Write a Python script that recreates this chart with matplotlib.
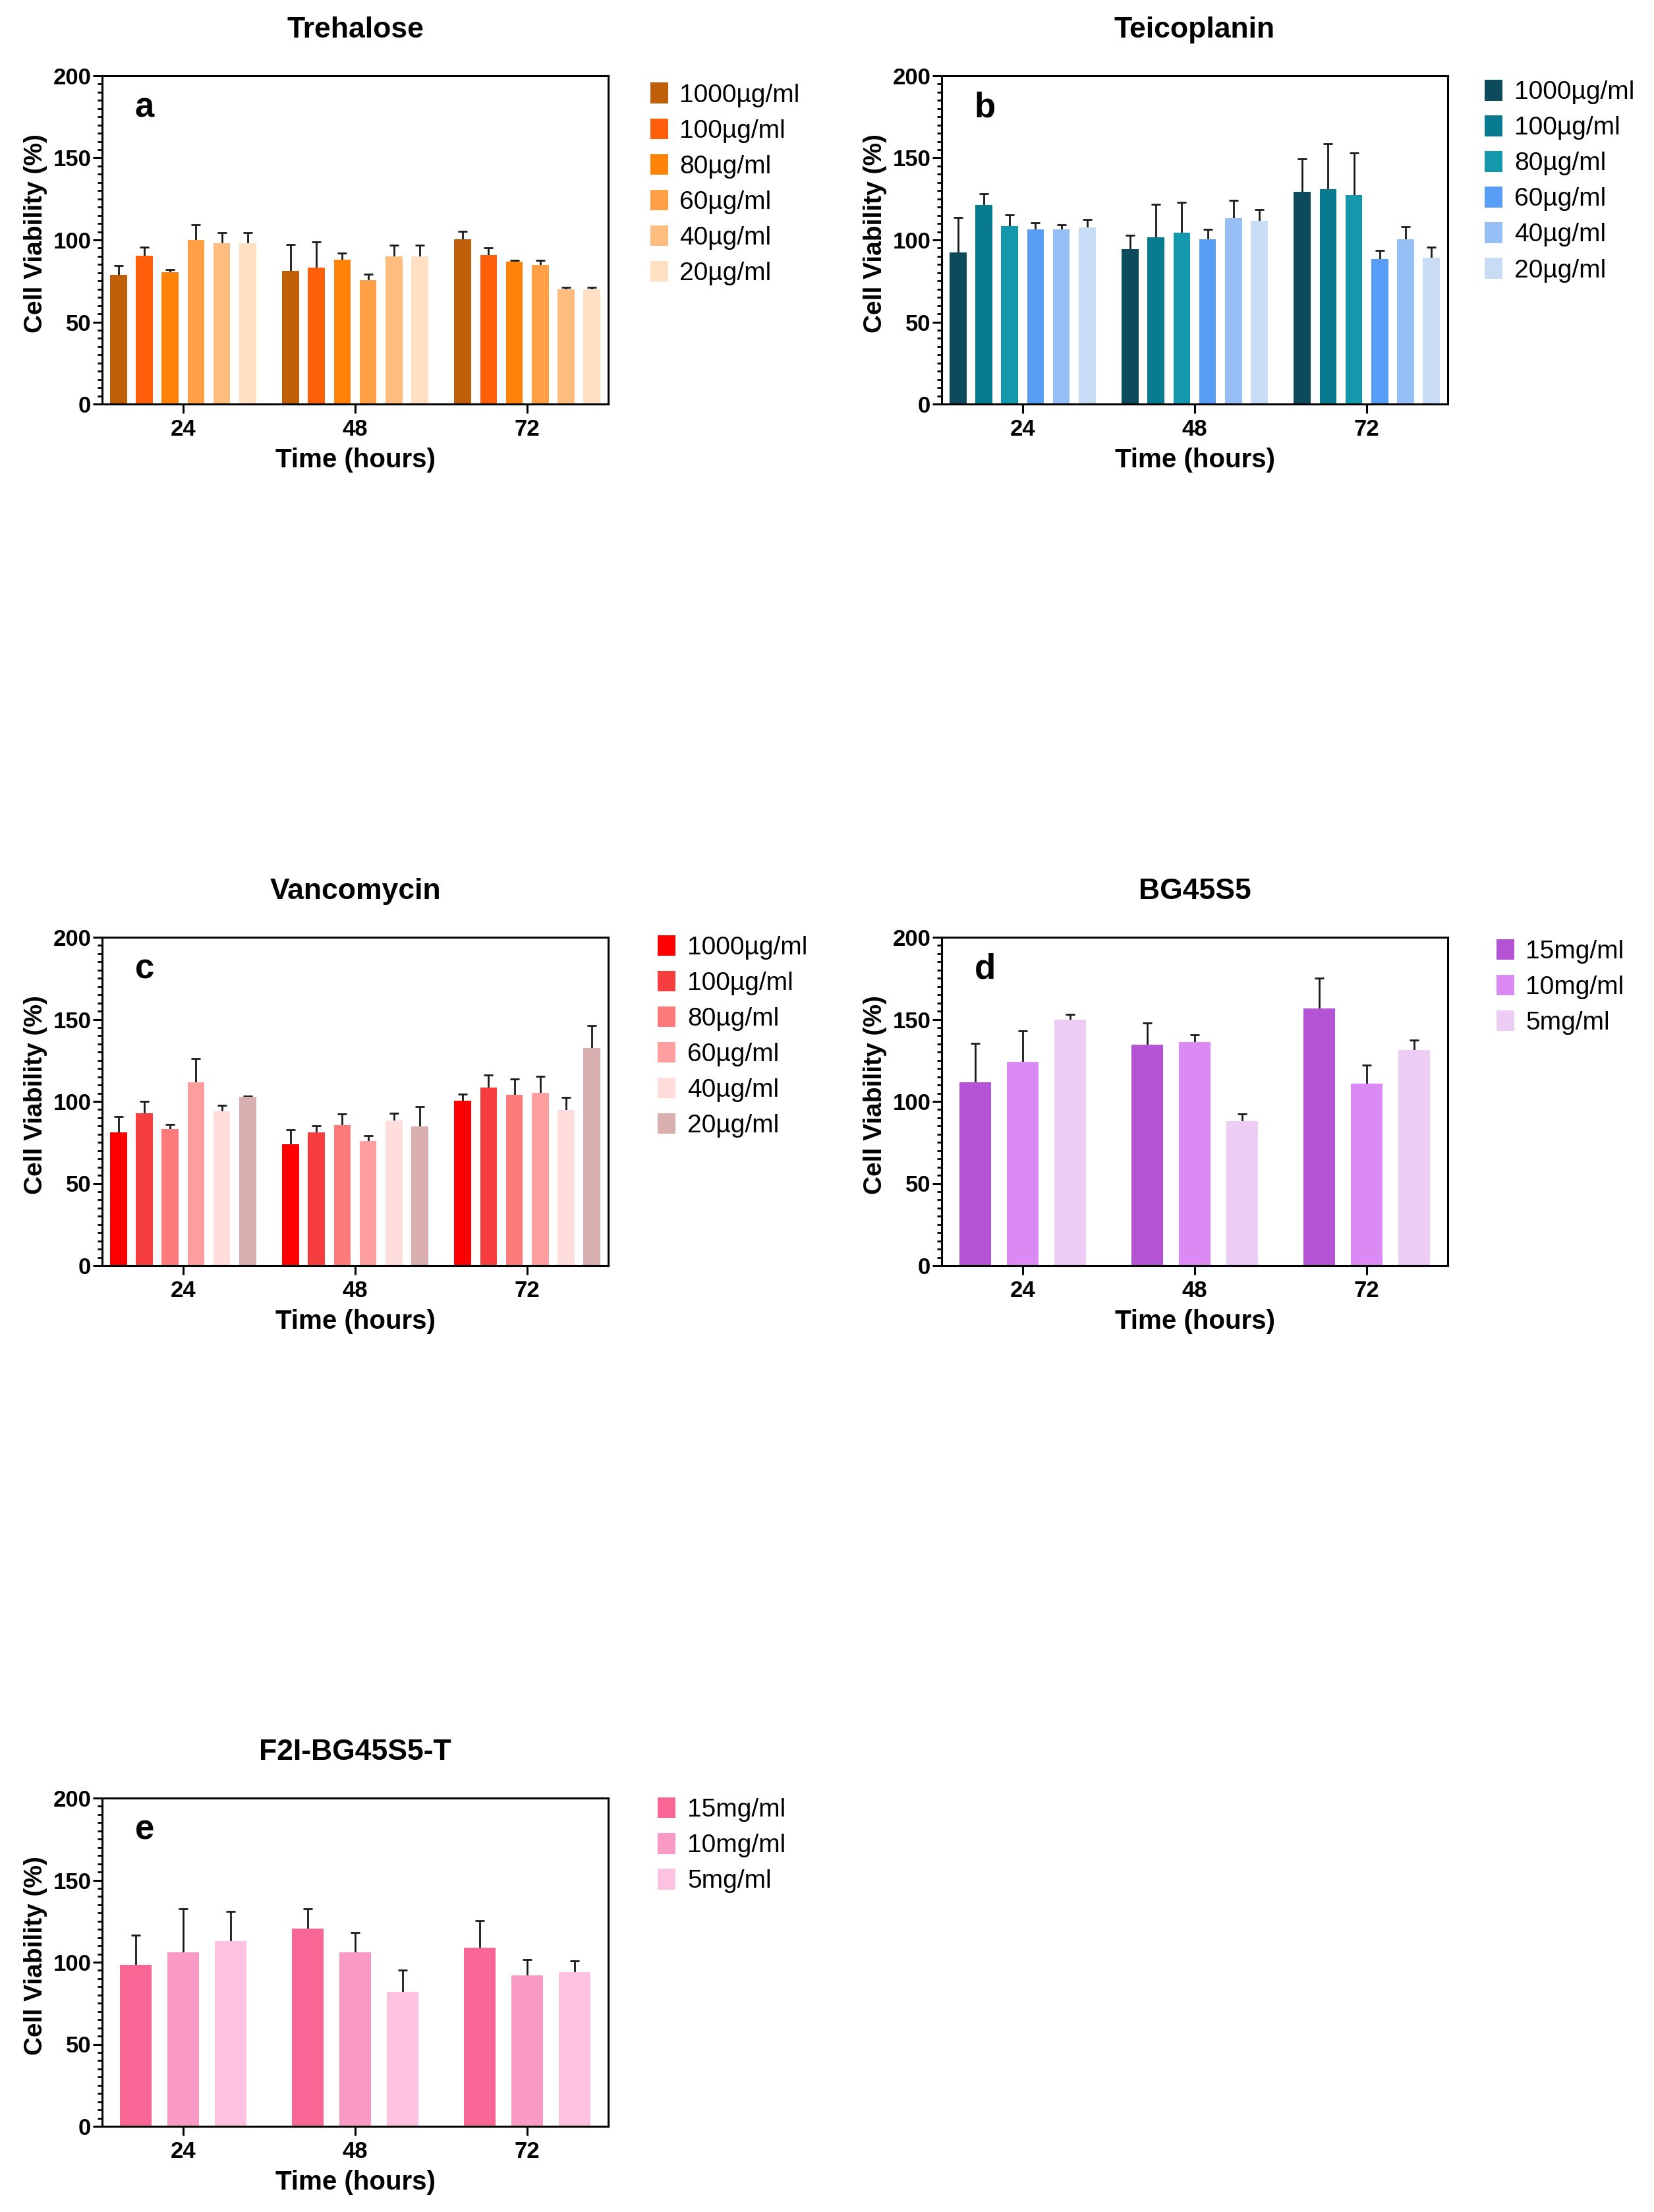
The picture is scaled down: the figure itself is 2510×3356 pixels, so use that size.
import numpy as np
import matplotlib
matplotlib.use("Agg")
import matplotlib.pyplot as plt
from matplotlib.ticker import MultipleLocator

plt.rcParams['font.family'] = ['Liberation Sans', 'DejaVu Sans']

### données
times = ['24', '48', '72']

conc_ug = ['1000µg/ml', '100µg/ml', '80µg/ml', '60µg/ml', '40µg/ml', '20µg/ml']
conc_mg = ['15mg/ml', '10mg/ml', '5mg/ml']

# Trehalose
treh_mean = [[78.7, 81.1, 100.4],
             [90.4, 83.1, 90.7],
             [80.2, 88.0, 86.7],
             [100.0, 75.6, 84.8],
             [97.8, 89.8, 70.0],
             [97.8, 89.8, 70.0]]
treh_err = [[5.6, 15.9, 4.8],
            [5.3, 15.8, 4.3],
            [1.7, 3.9, 0.9],
            [9.4, 3.7, 2.8],
            [6.8, 6.9, 0.9],
            [6.8, 6.9, 0.9]]

# Teicoplanin
teic_mean = [[92.4, 94.4, 129.3],
             [121.3, 101.5, 131.1],
             [108.3, 104.4, 127.4],
             [106.5, 100.4, 88.3],
             [106.5, 113.3, 100.4],
             [107.6, 111.5, 89.3]]
teic_err = [[21.1, 8.4, 20.1],
            [6.7, 20.2, 27.6],
            [7.1, 18.6, 25.6],
            [4.1, 6.1, 5.4],
            [2.9, 10.8, 7.6],
            [5.0, 6.8, 6.4]]

# Vancomycin
vanc_mean = [[81.1, 74.0, 100.5],
             [92.7, 81.1, 108.5],
             [83.3, 85.6, 104.2],
             [111.6, 75.9, 105.1],
             [94.0, 88.4, 94.9],
             [102.7, 84.7, 132.5]]
vanc_err = [[9.5, 8.6, 4.1],
            [7.4, 3.9, 7.4],
            [2.5, 6.9, 9.3],
            [14.5, 3.2, 10.2],
            [3.7, 4.3, 7.4],
            [0.6, 12.0, 13.7]]

# BG45S5
bg_mean = [[111.8, 134.7, 156.8],
           [123.9, 136.0, 110.9],
           [149.6, 88.0, 131.2]]
bg_err = [[23.6, 13.2, 18.3],
          [19.0, 4.5, 11.1],
          [3.3, 4.5, 6.1]]

# F2I-BG45S5-T
f2i_mean = [[98.4, 120.4, 108.7],
            [106.0, 105.9, 91.9],
            [112.9, 82.0, 93.8]]
f2i_err = [[18.1, 12.1, 16.7],
           [26.5, 12.2, 9.7],
           [17.9, 13.1, 7.0]]

treh_colors = ['#C05F0A', '#FF5E0B', '#FF8209', '#FFA046', '#FFBC7F', '#FFE0C2']
teic_colors = ['#0B4B5C', '#087B91', '#1398AE', '#599EF6', '#96BFF6', '#C9DCF5']
vanc_colors = ['#FF0000', '#F73E3E', '#FF7B7B', '#FF9E9E', '#FFDDDD', '#D8AEAE']
bg_colors = ['#B453D4', '#DB89F3', '#EDCCF5']
f2i_colors = ['#F76694', '#F89AC4', '#FDC2DF']

### mise en page (fractions de la figure)
W, H = 2510, 3356
ax_w = 768 / W
ax_h = 498 / H
col_x = [155 / W, 1429 / W]
row_y = [1 - 613 / H, 1 - 1920 / H, 1 - 3226 / H]

panels = [
    # titre, lettre, moyennes, erreurs, labels, couleurs, (col,row), légende x, décalage légende (px)
    ('Trehalose', 'a', treh_mean, treh_err, conc_ug, treh_colors, (0, 0), 1.083, 15.5),
    ('Teicoplanin', 'b', teic_mean, teic_err, conc_ug, teic_colors, (1, 0), 1.073, 11),
    ('Vancomycin', 'c', vanc_mean, vanc_err, conc_ug, vanc_colors, (0, 1), 1.098, 1.5),
    ('BG45S5', 'd', bg_mean, bg_err, conc_mg, bg_colors, (1, 1), 1.096, 7.5),
    ('F2I-BG45S5-T', 'e', f2i_mean, f2i_err, conc_mg, f2i_colors, (0, 2), 1.098, 3.7),
]

fig = plt.figure(figsize=(W / 100, H / 100), dpi=100)

for title, letter, means, errs, labels, colors, (c, r), leg_x, leg_dy in panels:
    ax = fig.add_axes([col_x[c], row_y[r], ax_w, ax_h])
    n = len(means)
    x = np.arange(len(times))
    if n == 6:
        step, width = 0.15, 0.098
    else:
        step, width = 0.275, 0.184
    offsets = (np.arange(n) - (n - 1) / 2) * step

    for i in range(n):
        xi = x + offsets[i]
        # barre d'erreur symétrique dessinée sous la barre : seule la moitié haute reste visible
        ax.errorbar(xi, means[i], yerr=errs[i], fmt='none',
                    ecolor='#1a1a1a', elinewidth=2, capsize=5, capthick=2, zorder=1)
        ax.bar(xi, means[i], width=width, color=colors[i], label=labels[i], zorder=2)

    ax.set_xlim(-0.47, 2.47)
    ax.set_ylim(0, 200)
    ax.set_xticks(x)
    ax.set_xticklabels(times)
    ax.yaxis.set_major_locator(MultipleLocator(50))
    ax.yaxis.set_minor_locator(MultipleLocator(5))
    ax.tick_params(axis='both', which='major', direction='out', length=10, width=2.2,
                   labelsize=25)
    ax.tick_params(axis='y', which='major', pad=2)
    ax.tick_params(axis='x', which='major', pad=6)
    ax.tick_params(axis='y', which='minor', direction='out', length=5, width=2)
    for lab in ax.get_xticklabels() + ax.get_yticklabels():
        lab.set_fontweight('bold')
    for s in ax.spines.values():
        s.set_linewidth(2.2)
        s.set_zorder(4)

    ax.set_ylabel('Cell Viability (%)', fontsize=28, fontweight='bold')
    ax.yaxis.set_label_coords(-0.108, 0.52)
    ax.set_xlabel('Time (hours)', fontsize=29, fontweight='bold', labelpad=8)
    ax.set_title(title, fontsize=32, fontweight='bold', pad=42)
    ax.text(0.065, 0.875, letter, transform=ax.transAxes, fontsize=38,
            fontweight='bold', va='baseline', ha='left')

    leg_y = 1 - (leg_dy - 5) / 498
    ax.legend(loc='upper left', bbox_to_anchor=(leg_x, leg_y), frameon=False,
              fontsize=28, handlelength=0.69, handleheight=0.88, handletextpad=0.46,
              labelspacing=0.43, borderpad=0, borderaxespad=0)

fig.savefig('out.png', dpi=100)
